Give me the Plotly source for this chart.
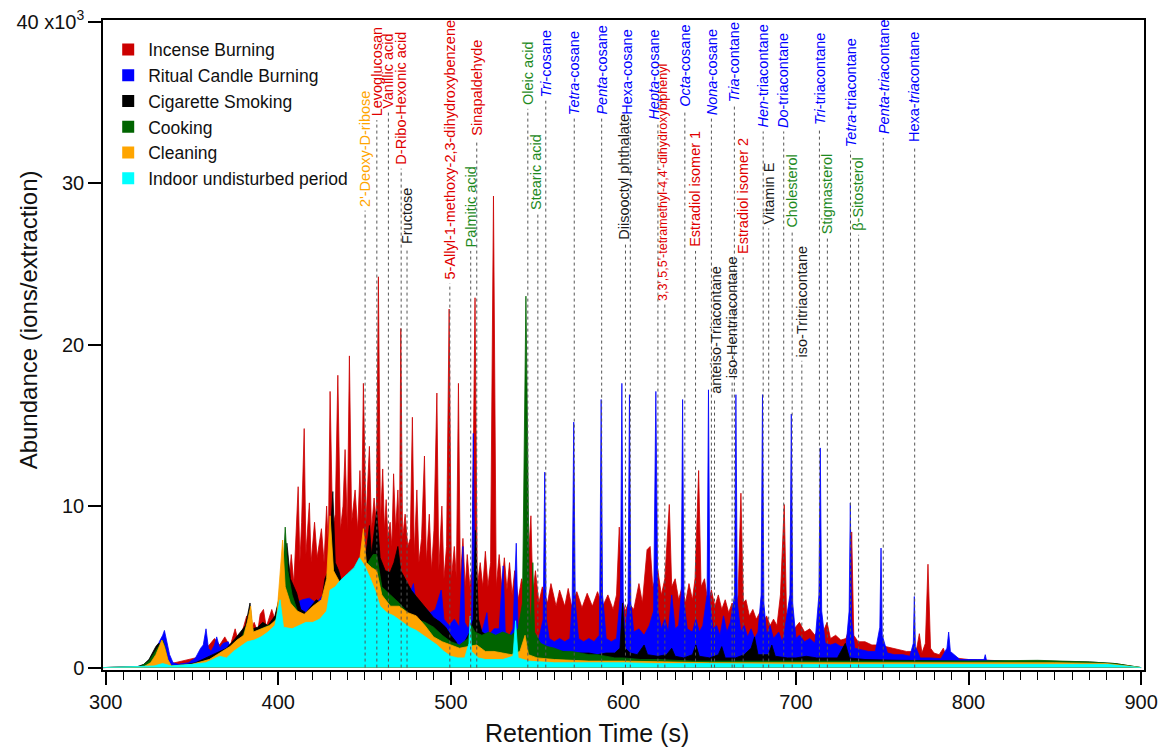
import plotly.graph_objects as go

# ---------------- data (retention time s, abundance x10^3) ----------------
incense = [(298,0),(330,0.05),(340,0.3),(352,0.6),(356,1.0),(360,1.4),(363,1.8),(366,1.4),(369,1.9),(372,1.3),(375,2.4),(377,1.5),(379,2.2),(381.7,3.2),(383,2.0),(386,2.8),(388,2.2),(389.5,3.3),(391.4,3.6),(393,2.5),(396.2,3.6),(398,3.0),(400,4.0),(401.5,5.5),(403,4.5),(404.5,6.5),(406,5.0),(407.5,7.0),(409,5.2),(411.5,11.2),(412.5,6.5),(413.5,9.0),(415,14.8),(416,7.0),(418,10.2),(419,6.5),(421,9.0),(422.5,6.8),(425,8.6),(426.5,6.5),(428,10.0),(429,7.5),(430,17.1),(431.5,8.5),(433,9.5),(434.5,18.1),(436,8.5),(437.5,10),(438.7,13.5),(440,8.5),(441.2,19.3),(442.5,9),(444.5,11),(446,8.5),(447.3,12.2),(448.3,9),(449.3,17.6),(450.8,9.0),(452.8,13.7),(454,8.5),(455.5,10.5),(456.8,9),(458,24.2),(459.2,9),(460.5,12.3),(461.5,8.5),(462.5,10.4),(463.5,8),(464.8,9.0),(465.8,7.5),(466.8,12.0),(468,8.5),(469.3,11),(470.2,8),(471,21.0),(472,8),(473.5,9.5),(475,7.5),(476.5,8.0),(477.7,15.5),(478.8,7),(480.3,11.0),(481.5,6.5),(483,8.0),(484.7,13.1),(485.8,6.5),(487.5,9.5),(488.8,6.0),(490.2,8.5),(491.9,17.0),(493,6),(494.8,10.0),(496,5.5),(497.5,7.5),(499,22.2),(500.3,5.5),(502,7.5),(503.2,5.5),(504.4,17.6),(505.5,5.5),(507,8.0),(508.3,5.0),(509.5,7.0),(511,5.0),(512.3,6.0),(514,22.9),(515.3,5.0),(517,6.5),(518.5,5),(520,7.2),(521.5,5.0),(523,6.5),(524.7,29.2),(526.3,5.0),(528,7.0),(529.5,5.0),(531,6.8),(532.5,4.8),(534,6.5),(535.5,4.5),(537,6.0),(539,4.2),(541,5.5),(543,4.5),(544.5,6.0),(546.4,9.4),(547.5,4.5),(549,6.0),(551,4.0),(553,5.0),(556,4.0),(558,5.2),(561,3.8),(563,4.8),(566,3.8),(568,4.9),(570,3.8),(573,4.7),(576,3.7),(579,4.6),(582,3.8),(585,4.7),(588,3.8),(591,4.5),(594,3.6),(596,4.5),(597.6,8.7),(599,4.5),(601,3.5),(603,4.0),(606,3.6),(609,5.2),(611,4.0),(613.7,7.3),(615.5,7.5),(617,5),(620,6.0),(622,4.5),(624,5.5),(626.6,10.1),(628,5.0),(630,5.5),(632,4.2),(634,5.0),(636,4.0),(638,5.2),(640,4.2),(641.5,5.5),(643.6,12.2),(645,5.0),(647,5.5),(649,4.0),(651,4.8),(653,3.8),(655,4.5),(657,3.6),(659,4.2),(661,3.4),(663,4.0),(665,3.4),(666.5,4.5),(668.1,10.8),(669.5,4),(671,4.2),(673,3.2),(675,3.6),(677,3.0),(679,3.4),(681,2.8),(683,3.2),(685,2.6),(687,3.0),(689,2.6),(691,4.5),(693.2,10.1),(694.5,3.5),(696,2.8),(699,2.4),(702,2.8),(705,2.2),(708,2.4),(711,2.0),(713,2.4),(715,2.0),(718,2.8),(720,1.8),(723,2.0),(726,1.7),(729,1.8),(731,2.5),(732.3,8.4),(733.5,2.0),(736,1.6),(740,1.6),(744,1.4),(748,1.4),(752,1.3),(756,1.2),(760,1.1),(764,1.0),(768,1.0),(770,1.2),(771.5,2.1),(773,0.9),(775,1.5),(776.5,6.4),(778,1.2),(780,0.9),(783,0.8),(785.4,1.2),(787,0.7),(792,0.6),(800,0.5),(810,0.45),(820,0.4),(836,0.35),(837,0.2),(860,0.2),(880,0.15),(900,0)]

candle = [(298,0),(320,0.05),(326,0.3),(329,0.9),(331,1.6),(333,2.0),(334,2.3),(335,1.8),(337,0.8),(339,0.3),(342,0.2),(348,0.3),(352,0.6),(355,1.2),(356.5,1.4),(358.1,2.4),(359.5,1.2),(361,1.0),(363,1.4),(364.3,1.9),(366,1.2),(368,1.5),(371,1.6),(373,1.0),(376,1.4),(378,1.8),(380,1.5),(383,2.2),(386,1.6),(390,2.0),(395,2.4),(398,2.3),(400,3.0),(402,6.2),(403,3.5),(406,3.8),(410,4.0),(414,4.2),(418,4.3),(422,4.0),(426,4.5),(430,5.0),(434,5.5),(438,5.2),(441,5.5),(445,5.6),(448,5.4),(452,5.2),(455,5.6),(458,5.2),(462,5.0),(465,4.8),(467.7,6.0),(469,4.4),(472,4.4),(475,4.2),(478.3,5.2),(480,3.8),(484,3.8),(488,3.4),(491,3.6),(494.4,4.8),(496,3.0),(499,2.6),(502,3.0),(505,2.5),(507,7.5),(508,2.8),(510,2.4),(512,3.0),(513,14.5),(514,3.5),(516,2.5),(518,2.2),(520.9,3.4),(522,2.0),(525,2.4),(528,2.4),(530.3,6.3),(531.5,2.2),(534,2.0),(536,2.4),(537.9,7.7),(539,2.0),(542,1.8),(545,1.6),(548,1.6),(551,1.8),(553.5,3),(554.4,12.1),(555.3,3),(557,1.8),(560,1.6),(563,1.8),(566,1.6),(569,1.8),(570.3,4.0),(571.2,15.2),(572.1,4.0),(574,1.8),(577,1.6),(580,1.8),(583,1.6),(586,2.0),(586.3,4.5),(587.1,16.6),(587.9,4.5),(590,1.8),(593,1.6),(596,1.8),(598.3,4.5),(599.1,17.6),(599.9,4),(601,2.0),(602.7,4),(603.5,16.9),(604.3,4),(606,2.2),(609,2.4),(612,2.0),(615,2.6),(617.5,3.5),(618.8,17.1),(620,3.5),(622,2.4),(624,3.0),(626,2.2),(628,4.5),(630,2.4),(632,2.6),(633.5,4.5),(634.3,16.6),(635.1,4.0),(637,2.4),(640,2.2),(642,3.0),(644,2.2),(646,2.6),(648.5,4.5),(649.3,17.2),(650.1,4.0),(652,2.4),(654,2.6),(656,2.0),(658,3.2),(660,2.2),(662,2.8),(664.4,4.5),(665.2,16.9),(666,4.0),(668,2.2),(670,2.6),(672,1.9),(674,2.4),(676,1.8),(678,2.2),(679.8,4.5),(680.6,16.9),(681.4,4.0),(683,2.0),(685,2.6),(687,1.8),(690,2.2),(692,1.6),(693,2.0),(696.5,4.5),(697.3,15.7),(698.1,4.0),(700,1.8),(702,2.0),(705,1.6),(708,1.8),(711,1.5),(713.3,4.5),(714.1,13.6),(714.9,3.5),(717,1.5),(720,1.4),(723,1.5),(726,1.3),(729,1.3),(730.8,3.5),(731.5,10.2),(732.2,3.0),(734,1.2),(738,1.1),(742,1.0),(746,1.0),(748.6,2.5),(749.3,7.4),(750,2.0),(753,0.9),(757,0.8),(762,0.8),(766,0.7),(768,1.5),(768.6,4.4),(769.2,1.3),(772,0.6),(778,0.6),(784,0.55),(787.5,1.2),(788.5,2.2),(789.5,1.0),(795,0.5),(805,0.5),(809,0.5),(809.7,0.8),(810.4,0.45),(820,0.4),(830,0.35),(860,0.2),(900,0)]

cigarette = [(298,0),(318,0.05),(322,0.2),(325,0.5),(327,0.9),(329,1.3),(330.5,1.5),(332,1.4),(334,1.0),(336,0.4),(338,0.1),(345,0.15),(352,0.3),(358,0.6),(364,0.9),(370,1.2),(375,1.8),(378,2.2),(381,2.6),(383.6,4.0),(385,2.4),(388,2.5),(391,2.8),(394,2.6),(398,3.2),(401,4.5),(403,6.5),(405,7.7),(407,5.5),(410.7,4.6),(413,3.6),(416,3.4),(419,3.8),(422,4.2),(425,4.0),(427,5.5),(429,6),(431.6,10.9),(433,6.5),(435,6.0),(437,5.2),(440.5,5.6),(443,5.0),(446,5.8),(449,6.5),(451,7.2),(452.8,8.8),(454,7.0),(457,9.7),(459,6.8),(462,6.0),(464.8,5.9),(467,6.5),(469.3,7.5),(471,6.0),(474,5.4),(477,4.8),(480,4.4),(483,4.0),(486,3.6),(490,3.1),(494,2.8),(497,2.5),(500,2.0),(503,1.6),(505,1.1),(508,1.6),(511,2.2),(513,3.0),(514.2,8.5),(516,3.0),(518,2.2),(521,2.0),(525,1.8),(530,1.5),(535,1.4),(540,1.3),(545,1.2),(550,1.1),(555,1.0),(560,1.0),(565,1.0),(570,0.9),(575,0.9),(580,0.9),(585,0.8),(590,0.9),(595,0.9),(598,1.2),(599.5,4.0),(601,1.2),(604,0.9),(608,0.8),(612,1.4),(614,0.8),(620,0.7),(625,0.8),(628,1.2),(630,0.7),(635,0.6),(640,0.8),(642,1.4),(644,0.7),(650,0.6),(655,0.8),(657,1.3),(659,0.6),(665,0.6),(670,0.8),(674,1.2),(676,1.9),(678,0.8),(684,0.8),(686,1.4),(688,0.7),(695,0.6),(700,0.6),(706,0.7),(712,0.6),(718,0.6),(724,0.6),(728.6,1.5),(731,0.6),(740,0.5),(760,0.45),(800,0.4),(840,0.4),(870,0.35),(885,0.25),(900,0)]

cooking = [(298,0),(320,0.05),(325,0.4),(328,0.9),(331,1.4),(333,1.7),(334.5,1.2),(336,0.4),(338,0.1),(350,0.2),(360,0.5),(370,1.0),(378,1.6),(383,3.0),(386,2.2),(392,2.5),(398,2.8),(401,4.0),(403,6.5),(404,8.7),(405.5,6),(408,4.5),(412,3.2),(416,3.0),(420,3.5),(425,3.8),(429,5.0),(431,7.0),(433,5.0),(436,4.5),(440,4.5),(445,4.8),(448,5.4),(452,6.5),(455,7.0),(457,7.0),(460,5.0),(465,4.5),(470,4.0),(475,3.4),(480,3.0),(485,2.8),(490,2.5),(495,2.0),(500,1.6),(505,1.4),(510,1.8),(512,2.6),(514,2.2),(518,2.0),(522,2.2),(526,2.0),(530,2.2),(535,2.0),(539,2.4),(541.5,4),(542.5,14),(543.5,23.0),(544.5,14),(545.5,4),(546.5,2.5),(547.5,6.5),(548.5,2.2),(552,1.5),(556,1.3),(560,1.2),(565,1.0),(570,1.0),(575,0.9),(580,0.8),(585,0.8),(590,0.7),(595,0.6),(600,0.6),(610,0.5),(620,0.5),(640,0.4),(660,0.4),(680,0.4),(700,0.4),(720,0.4),(760,0.4),(800,0.4),(840,0.45),(870,0.35),(885,0.25),(900,0)]

cleaning = [(298,0),(322,0.05),(326,0.3),(329,0.8),(331,1.3),(332.5,1.7),(334,1.3),(336,0.5),(338,0.1),(350,0.2),(360,0.5),(366,0.9),(372,1.3),(376,1.7),(380,2.0),(382,2.8),(384,3.8),(385.5,2.2),(390,2.4),(395,2.6),(399,3.0),(401,5.5),(402.5,7.9),(404,5.0),(407,4.0),(411,3.5),(415,3.3),(420,3.8),(425,4.2),(428,5.5),(430,9.4),(432,6.0),(436,5.2),(440,5.0),(444,5.5),(447,6.5),(449.3,8.6),(451,6.5),(454,6.2),(457,6.0),(460,4.5),(465,3.8),(470,3.8),(475,3.4),(480,3.2),(485,2.6),(490,1.9),(495,1.6),(500,1.4),(505,1.2),(510,1.3),(515,1.4),(520,1.0),(525,1.0),(530,0.9),(535,0.8),(540,1.0),(543,2.0),(545,0.8),(550,0.6),(560,0.5),(580,0.4),(600,0.4),(620,0.35),(650,0.3),(700,0.3),(750,0.3),(800,0.3),(850,0.3),(880,0.25),(900,0)]

undisturbed = [(298,0),(320,0.05),(328,0.1),(333,0.25),(338,0.1),(350,0.2),(358,0.3),(362,0.5),(366,0.7),(370,0.6),(374,1.0),(378,1.3),(382,1.6),(386,1.7),(390,1.9),(394,2.2),(398,2.6),(401,4.2),(403,2.5),(408,2.4),(412,2.6),(416,2.8),(420,2.8),(424,3.0),(428,3.5),(430,4.8),(433,5.0),(436,5.4),(440,5.8),(444,6.2),(447,6.8),(450,6.3),(453,5.6),(456,4.8),(459,3.8),(463,3.4),(467,3.2),(472,2.8),(476,2.5),(480,2.3),(484,2.0),(488,1.7),(492,1.4),(496,1.0),(500,0.7),(504,0.6),(508,0.6),(510.5,1.5),(511.2,3.2),(512,1.0),(516,0.6),(520,0.5),(530,0.5),(536,0.7),(537.5,2.9),(539,0.6),(545,0.4),(560,0.3),(580,0.3),(600,0.3),(620,0.25),(650,0.25),(700,0.2),(750,0.2),(800,0.2),(850,0.2),(880,0.2),(900,0)]

series_names = ["Incense Burning", "Ritual Candle Burning", "Cigarette Smoking",
                "Cooking", "Cleaning", "Indoor undisturbed period"]
series_data = [incense, candle, cigarette, cooking, cleaning, undisturbed]

# compound labels: name, retention time (s), source category
compound_names = ["2'-Deoxy-D-ribose", "Levoglucosan", "Vanillic acid", "D-Ribo-Hexonic acid",
    "Fructose", "5-Allyl-1-methoxy-2,3-dihydroxybenzene", "Palmitic acid", "Sinapaldehyde",
    "Oleic acid", "Stearic acid", "<i>Tri</i>-cosane", "<i>Tetra</i>-cosane", "<i>Penta</i>-cosane",
    "Diisooctyl phthalate", "Hexa-cosane", "<i>Hepta</i>-cosane",
    "3,3',5,5'-tetramethyl-4,4'-dihydroxybiphenyl", "<i>Octa</i>-cosane", "Estradiol isomer 1",
    "<i>Nona</i>-cosane", "anteiso-Triacontane", "iso-Hentriacontane", "<i>Tria</i>-contane",
    "Estradiol isomer 2", "<i>Hen</i>-triacontane", "Vitamin E", "<i>Do</i>-triacontane",
    "Cholesterol", "iso-Tritriacontane", "<i>Tri</i>-triacontane", "Stigmasterol",
    "<i>Tetra</i>-triacontane", "β-Sitosterol", "<i>Penta</i>-<i>tria</i>contane",
    "Hexa-<i>tria</i>contane"]
compound_rt = [450.3, 457.1, 463.8, 471.2, 474.6, 499.4, 511.5, 515.0, 544.6, 550.4, 555.0,
    571.5, 587.4, 601.2, 604.0, 620.0, 624.0, 635.6, 641.8, 651.0, 652.8, 663.0, 664.3,
    669.4, 681.0, 684.2, 692.9, 697.8, 703.4, 713.6, 718.2, 731.6, 736.3, 750.6, 768.8]
compound_src = ["clean", "inc", "inc", "inc", "cig", "inc", "cook", "inc", "cook", "cook",
    "cand", "cand", "cand", "cig", "cand", "cand", "inc", "cand", "inc", "cand", "cig", "cig",
    "cand", "inc", "cand", "cig", "cand", "cook", "cig", "cand", "cook", "cand", "cook",
    "cand", "cand"]

# ---------------- styling / layout ----------------
fill_colors = ["#CC0000", "#0000FF", "#000000", "#006400", "#FFA500", "#00FFFF"]
label_colors = {"inc": "#E00000", "cand": "#0000FF", "cig": "#1a1a1a",
                "cook": "#1E8A1E", "clean": "#FFA500"}
# bottom of each rotated label (axis units) and small horizontal text nudges (px)
label_bottom = [28.4, 34.0, 34.5, 31.0, 26.1, 23.9, 25.9, 32.8, 34.7, 28.2, 35.2, 34.1, 34.1,
    26.4, 34.1, 33.8, 22.6, 34.6, 25.9, 34.1, 16.8, 17.8, 34.9, 25.5, 33.3, 27.3, 33.3, 27.1,
    19.1, 33.5, 26.7, 32.1, 26.9, 32.9, 32.4]
label_shift = [0, 0, 0, 0, 0, 0, 0, 0, 0, -2, 0, 0, 0, -1, -3, -4, -2, 0, 0, 0, 2, 0, 0,
    0, 0, 0, 0, 0, 0, 0, 0, 0, 0, 0, 0]

fig = go.Figure()
for name, data, col in zip(series_names, series_data, fill_colors):
    xs = [p[0] for p in data]
    ys = [p[1] for p in data]
    fig.add_trace(go.Scatter(x=xs, y=ys, mode="lines", fill="tozeroy",
                             line=dict(color=col, width=0.8), fillcolor=col,
                             showlegend=False, hoverinfo="skip"))
for name, col in zip(series_names, fill_colors):
    fig.add_trace(go.Scatter(x=[None], y=[None], mode="markers", name=name,
                             marker=dict(symbol="square", size=17, color=col)))

annotations = []
shapes = []
for name, rt, src, yb, xs_ in zip(compound_names, compound_rt, compound_src,
                                  label_bottom, label_shift):
    fs = 12.5 if name.startswith("3,3'") else 14.5
    annotations.append(dict(x=rt, y=yb, xref="x", yref="y", text=name, showarrow=False,
                            textangle=-90, xanchor="center", yanchor="bottom", xshift=xs_,
                            font=dict(size=fs, color=label_colors[src],
                                      family="Liberation Sans, Arial, sans-serif")))
    shapes.append(dict(type="line", xref="x", yref="y", x0=rt, x1=rt, y0=0, y1=yb - 0.1,
                       line=dict(color="#555555", width=1, dash="3px,3px"), layer="above"))

annotations.append(dict(text="Abundance (ions/extraction)", xref="paper", yref="paper",
                        x=-0.072, y=0.538, showarrow=False, textangle=-90,
                        xanchor="center", yanchor="middle",
                        font=dict(size=24, color="#111", family="Liberation Sans, Arial")))
annotations.append(dict(text="Retention Time (s)", xref="paper", yref="paper",
                        x=0.465, y=-0.097, showarrow=False,
                        xanchor="center", yanchor="middle",
                        font=dict(size=25, color="#111", family="Liberation Sans, Arial")))

fig.update_layout(
    width=1161, height=747,
    margin=dict(l=103, r=17, t=19.5, b=77, autoexpand=False),
    paper_bgcolor="white", plot_bgcolor="white",
    font=dict(family="Liberation Sans, Arial, sans-serif", color="#111"),
    showlegend=True,
    legend=dict(x=0.005, y=0.982, xanchor="left", yanchor="top",
                bgcolor="rgba(255,255,255,0)", font=dict(size=17.5),
                itemsizing="constant", tracegroupgap=0),
    annotations=annotations, shapes=shapes,
)
fig.update_xaxes(range=[298.4, 901.7], showgrid=False, zeroline=False,
                 showline=True, linecolor="black", linewidth=1.5, mirror=True,
                 ticks="outside", ticklen=13, tickwidth=1.5, tickcolor="black",
                 tickvals=[300, 400, 500, 600, 700, 800, 900], automargin=False,
                 tickfont=dict(size=20), ticklabeloverflow="allow",
                 minor=dict(ticks="outside", ticklen=8, tickwidth=1.3, dtick=10,
                            tick0=300, tickcolor="black"))
fig.update_yaxes(range=[-0.15, 40.1], showgrid=False, zeroline=False,
                 showline=True, linecolor="black", linewidth=1.5, mirror=True,
                 ticks="outside", ticklen=13, tickwidth=1.5, tickcolor="black",
                 tickvals=[0, 10, 20, 30, 40], automargin=False,
                 ticktext=["0", "10", "20", "30", "40 x10<sup>3</sup>"],
                 tickfont=dict(size=20), ticklabeloverflow="allow")

fig.write_html("out.html", config={"displayModeBar": False},
               post_script="document.body.style.margin='0';document.body.style.overflow='hidden';")
